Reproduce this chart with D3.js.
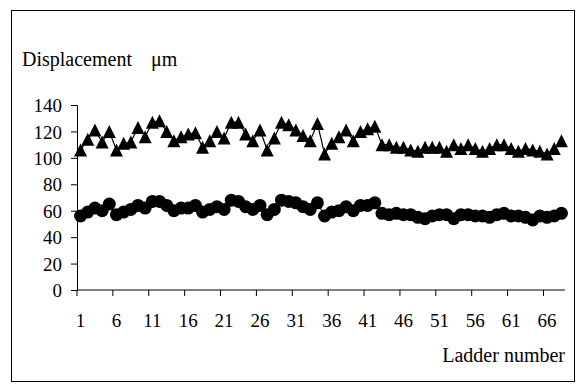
<!DOCTYPE html>
<html>
<head>
<meta charset="utf-8">
<script src="https://cdn.jsdelivr.net/npm/d3@7"></script>
<style>
  body { margin: 0; background: #fff; }
</style>
</head>
<body>
<div id="chart"></div>
<script>
// ladder numbers 1..68
var ladders = d3.range(1, 69)
var xTickLabels = [1, 6, 11, 16, 21, 26, 31, 36, 41, 46, 51, 56, 61, 66]
var yTicks = [0, 20, 40, 60, 80, 100, 120, 140]

// triangle series (upper)
var triValues = [106, 114, 121, 112, 120, 106, 111, 112, 123, 116,
                 127, 128, 120, 113, 116, 118, 119, 108, 113, 120,
                 115, 127, 127, 118, 113, 121, 106, 115, 127, 125,
                 121, 117, 113, 126, 103, 111, 116, 121, 113, 120,
                 122, 124, 110, 110, 108, 108, 106, 105, 108, 108,
                 108, 105, 110, 107, 110, 107, 105, 107, 110, 110,
                 107, 105, 107, 106, 105, 103, 107, 113]

// circle series (lower)
var circValues = [56, 59, 62, 60, 65, 57, 59, 61, 64, 62,
                  67, 67, 64, 60, 62, 62, 64, 59, 61, 63,
                  61, 68, 67, 63, 61, 64, 57, 61, 68, 67,
                  66, 63, 61, 66, 56, 59, 60, 63, 60, 64,
                  64, 66, 58, 57, 58, 57, 57, 55, 54, 56,
                  57, 57, 54, 57, 57, 56, 56, 55, 57, 58,
                  56, 56, 55, 53, 56, 55, 56, 58]

var serif = "'Liberation Serif', 'Times New Roman', Times, serif"

var width = 580, height = 390
var svg = d3.select("#chart").append("svg")
    .attr("width", width)
    .attr("height", height)
    .style("font-family", serif)

// outer frame
svg.append("rect")
    .attr("x", 11.5).attr("y", 10.5)
    .attr("width", 563).attr("height", 371)
    .attr("fill", "none").attr("stroke", "#000").attr("stroke-width", 1)

var plot = { left: 77, right: 565, top: 105, bottom: 290 }

var x = d3.scaleBand()
    .domain(ladders)
    .range([plot.left, plot.right])

var y = d3.scaleLinear()
    .domain([0, 140])
    .range([plot.bottom, plot.top])

// y axis
var yAxis = d3.axisLeft(y).tickValues(yTicks).tickSize(6).tickPadding(9)
var gy = svg.append("g").attr("transform", "translate(" + plot.left + ",0)").call(yAxis)
gy.attr("font-family", null).attr("font-size", null)
gy.selectAll("text").style("font-size", "19px").style("font-family", serif).attr("dy", "0.35em")

// x axis: ticks at category boundaries every 5, labels at category centres
var gx = svg.append("g").attr("transform", "translate(0," + plot.bottom + ")")
gx.append("line")
    .attr("x1", plot.left).attr("x2", plot.right)
    .attr("stroke", "#000")
gx.selectAll(".tk")
    .data(xTickLabels)
    .enter().append("line")
    .attr("x1", d => x(d)).attr("x2", d => x(d))
    .attr("y1", 0).attr("y2", 6)
    .attr("stroke", "#000")
gx.selectAll(".lbl")
    .data(xTickLabels)
    .enter().append("text")
    .attr("x", d => x(d) + x.bandwidth() / 2)
    .attr("y", 37)
    .attr("text-anchor", "middle")
    .style("font-size", "19px")
    .style("font-family", serif)
    .text(d => d)

svg.selectAll(".domain, .tick line").attr("stroke", "#000")

// axis titles
var yTitle = svg.append("text")
    .attr("x", 22).attr("y", 66)
    .style("font-size", "20px")
    .style("font-family", serif)
yTitle.append("tspan").text("Displacement")
yTitle.append("tspan").attr("x", 151).text("\u03bcm")

svg.append("text")
    .attr("x", 565).attr("y", 362)
    .attr("text-anchor", "end")
    .style("font-size", "20px")
    .style("font-family", serif)
    .text("Ladder number")

var cx = function(d, i) { return x(ladders[i]) + x.bandwidth() / 2 }

var line = d3.line()
    .x((d, i) => cx(d, i))
    .y(d => y(d))

// triangle series
svg.append("path")
    .datum(triValues)
    .attr("d", line)
    .attr("fill", "none")
    .attr("stroke", "#000")
    .attr("stroke-width", 1.2)

var tw = 13, th = 13
svg.selectAll(".tri")
    .data(triValues)
    .enter().append("path")
    .attr("d", function(d, i) {
        var px = cx(d, i), py = y(d)
        return "M" + px + "," + (py - th / 2) +
               "L" + (px + tw / 2) + "," + (py + th / 2) +
               "L" + (px - tw / 2) + "," + (py + th / 2) + "Z"
    })
    .attr("fill", "#000")

// circle series
svg.append("path")
    .datum(circValues)
    .attr("d", line)
    .attr("fill", "none")
    .attr("stroke", "#000")
    .attr("stroke-width", 1.2)

svg.selectAll(".circ")
    .data(circValues)
    .enter().append("circle")
    .attr("cx", (d, i) => cx(d, i))
    .attr("cy", d => y(d))
    .attr("r", 6.5)
    .attr("fill", "#000")
</script>
</body>
</html>
